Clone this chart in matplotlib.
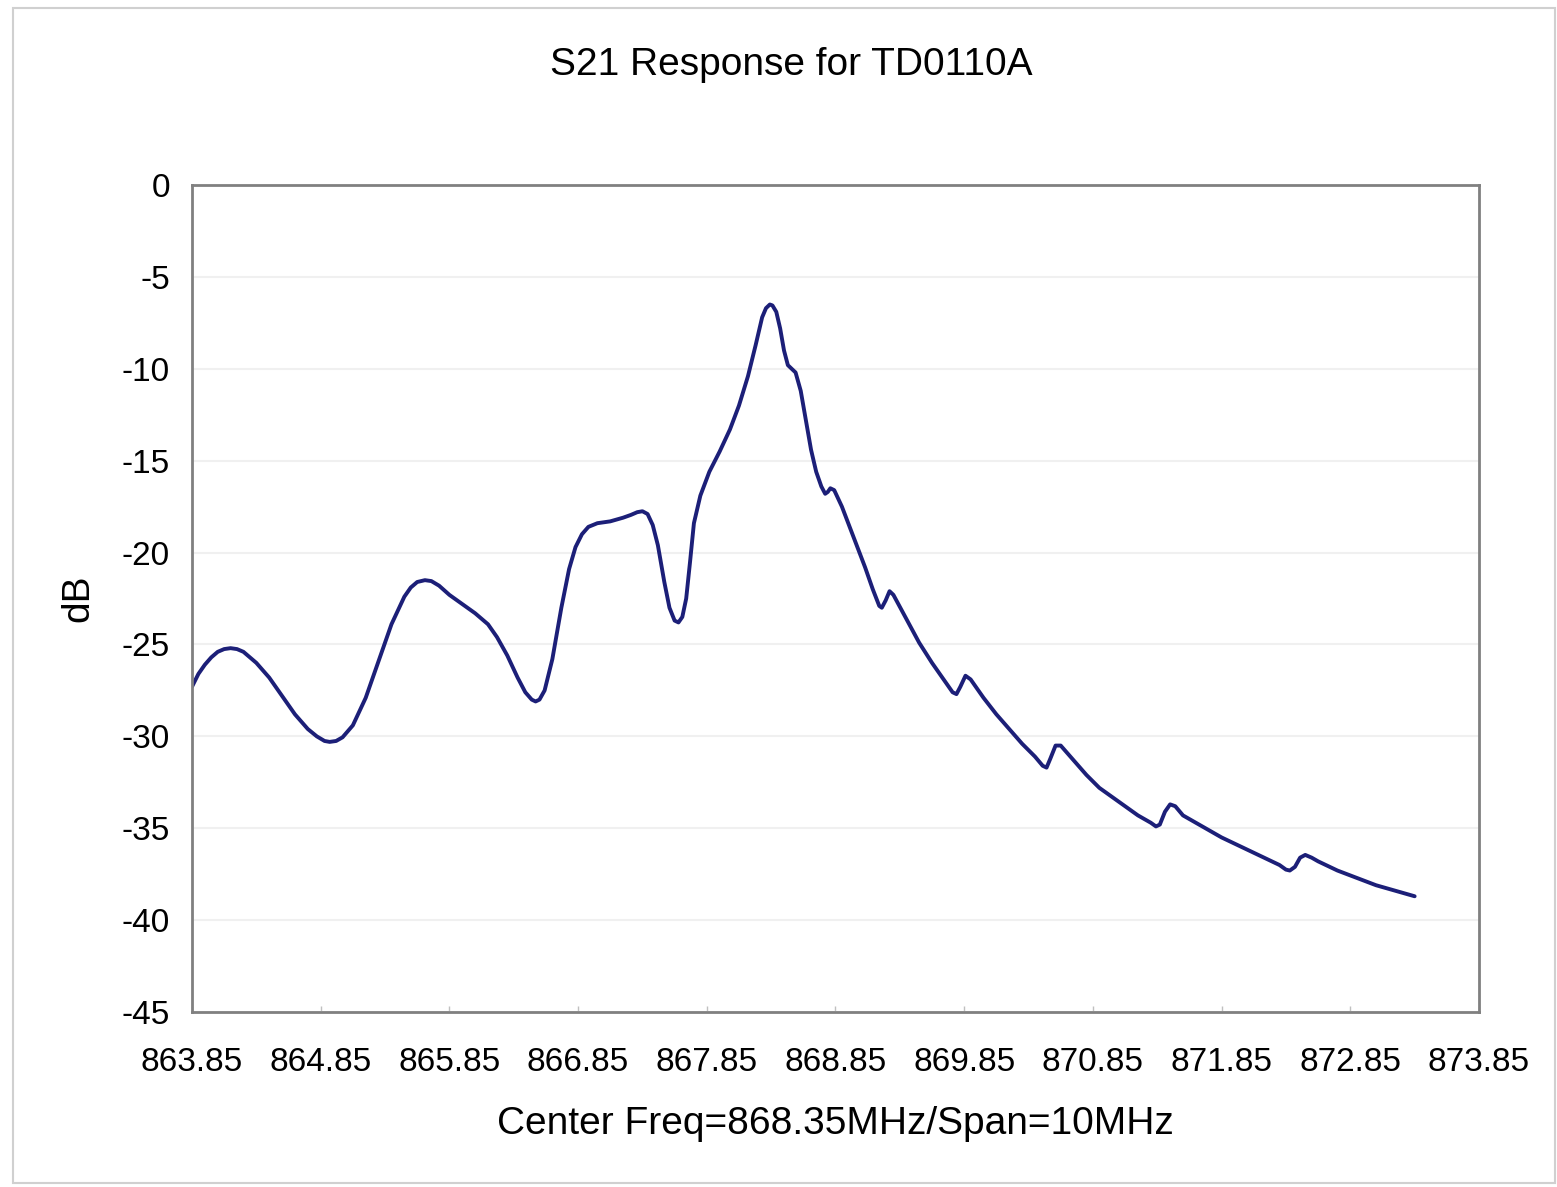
import matplotlib.pyplot as plt
from matplotlib.patches import Rectangle

# S21 Messkurve
freq_mhz = [863.85, 863.9, 863.95, 864.0, 864.05, 864.1, 864.15, 864.2, 864.25, 864.35,
            864.45, 864.55, 864.65, 864.75, 864.82, 864.88, 864.92, 864.97, 865.02, 865.1,
            865.2, 865.3, 865.4, 865.5, 865.55, 865.6, 865.66, 865.71, 865.77, 865.85,
            865.95, 866.05, 866.15, 866.22, 866.3, 866.38, 866.44, 866.49, 866.52, 866.55,
            866.59, 866.65, 866.72, 866.78, 866.83, 866.88, 866.93, 867.0, 867.1, 867.2,
            867.26, 867.31, 867.35, 867.39, 867.43, 867.47, 867.52, 867.56, 867.6, 867.63,
            867.66, 867.69, 867.72, 867.75, 867.8, 867.87, 867.95, 868.03, 868.1, 868.17,
            868.23, 868.28, 868.31, 868.34, 868.36, 868.39, 868.42, 868.45, 868.48, 868.51,
            868.54, 868.58, 868.62, 868.66, 868.7, 868.74, 868.77, 868.79, 868.81, 868.84,
            868.9, 868.96, 869.02, 869.08, 869.14, 869.19, 869.21, 869.24, 869.27, 869.3,
            869.4, 869.5, 869.6, 869.7, 869.76, 869.79, 869.82, 869.86, 869.9, 870.0,
            870.1, 870.2, 870.3, 870.4, 870.46, 870.49, 870.52, 870.56, 870.6, 870.7,
            870.8, 870.9, 871.0, 871.1, 871.2, 871.3, 871.34, 871.37, 871.41, 871.45,
            871.49, 871.55, 871.7, 871.85, 872.0, 872.15, 872.3, 872.35, 872.38, 872.42,
            872.46, 872.5, 872.55, 872.6, 872.75, 872.9, 873.05, 873.2, 873.35]
s21_db = [-27.3, -26.6, -26.1, -25.7, -25.4, -25.25, -25.2, -25.25, -25.4, -26.0,
          -26.8, -27.8, -28.8, -29.6, -30.0, -30.25, -30.3, -30.25, -30.05, -29.4,
          -27.9, -25.9, -23.9, -22.4, -21.9, -21.6, -21.5, -21.55, -21.8, -22.3,
          -22.8, -23.3, -23.9, -24.6, -25.6, -26.8, -27.6, -28.0, -28.1, -28.0,
          -27.5, -25.8, -23.0, -20.9, -19.7, -19.0, -18.6, -18.4, -18.3, -18.1,
          -17.95, -17.8, -17.75, -17.9, -18.5, -19.6, -21.6, -23.0, -23.7, -23.8,
          -23.5, -22.5, -20.5, -18.4, -16.9, -15.6, -14.5, -13.3, -12.0, -10.4,
          -8.7, -7.2, -6.7, -6.5, -6.55, -6.9, -7.8, -9.0, -9.8, -10.0,
          -10.2, -11.2, -12.8, -14.4, -15.6, -16.4, -16.8, -16.7, -16.5, -16.6,
          -17.5, -18.6, -19.7, -20.8, -22.0, -22.9, -23.0, -22.6, -22.1, -22.3,
          -23.6, -24.9, -26.0, -27.0, -27.6, -27.7, -27.3, -26.7, -26.9, -27.9,
          -28.8, -29.6, -30.4, -31.1, -31.6, -31.7, -31.2, -30.5, -30.5, -31.3,
          -32.1, -32.8, -33.3, -33.8, -34.3, -34.7, -34.9, -34.8, -34.1, -33.7,
          -33.8, -34.3, -34.9, -35.5, -36.0, -36.5, -37.0, -37.25, -37.3, -37.1,
          -36.6, -36.45, -36.6, -36.8, -37.3, -37.7, -38.1, -38.4, -38.7]

x_ticks = [863.85, 864.85, 865.85, 866.85, 867.85, 868.85, 869.85, 870.85, 871.85, 872.85, 873.85]
y_ticks = [0, -5, -10, -15, -20, -25, -30, -35, -40, -45]

plt.rcParams['font.family'] = ['Liberation Sans', 'DejaVu Sans']

fig = plt.figure(figsize=(15.57, 11.87), dpi=100)
ax = fig.add_axes([0.1233, 0.1474, 0.8266, 0.6967])

# Rahmen um die ganze Grafik
fig.patches.append(Rectangle((0.0085, 0.003), 0.99, 0.99, transform=fig.transFigure,
                             fill=False, edgecolor='#d0d0d0', linewidth=1.5))

ax.plot(freq_mhz, s21_db, color='#1c1f78', linewidth=2.8,
        solid_joinstyle='round', solid_capstyle='round')

ax.set_xlim(863.85, 873.85)
ax.set_ylim(-45, 0)
ax.set_xticks(x_ticks)
ax.set_xticklabels([f'{t:.2f}' for t in x_ticks])
ax.set_yticks(y_ticks)
ax.set_yticklabels([str(t) for t in y_ticks])
ax.tick_params(axis='both', labelsize=24, length=4, width=1, color='#c0c0c0', direction='in')
ax.tick_params(axis='x', pad=25)
ax.tick_params(axis='y', length=0, pad=16)

ax.yaxis.grid(True, color='#f0f0f0', linewidth=1.5)
ax.set_axisbelow(True)
for s in ax.spines.values():
    s.set_color('#808080')
    s.set_linewidth(2)

fig.text(791 / 1557, 1 - 65 / 1187, 'S21 Response for TD0110A', fontsize=28,
         ha='center', va='center')
ax.set_xlabel('Center Freq=868.35MHz/Span=10MHz', fontsize=28, labelpad=20)
ax.set_ylabel('dB', fontsize=28, labelpad=18)

plt.savefig('out.png')
